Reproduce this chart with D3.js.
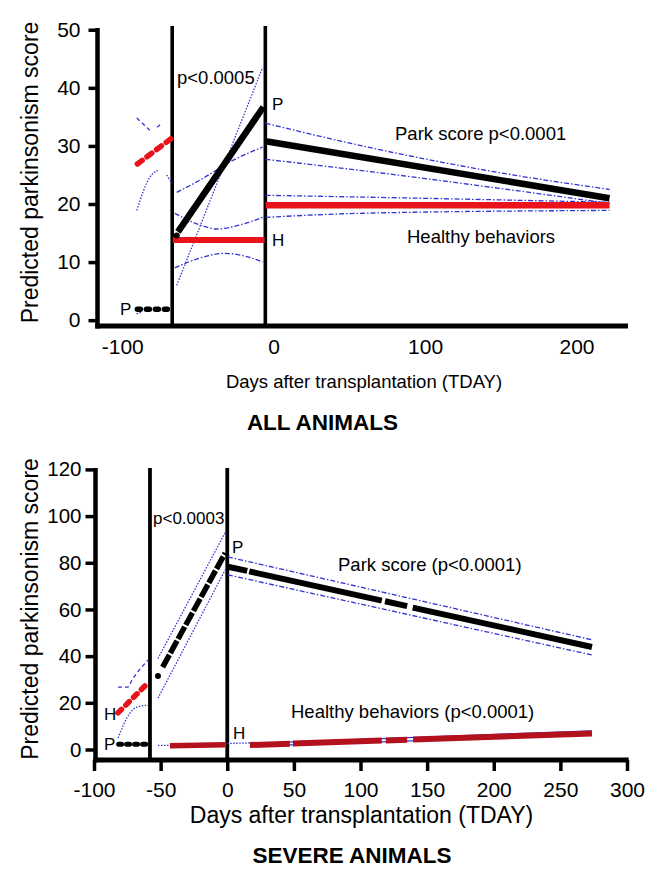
<!DOCTYPE html>
<html><head><meta charset="utf-8">
<script src="https://cdn.jsdelivr.net/npm/d3@7"></script>
<style>
body{margin:0;background:#fff}
svg{display:block}
text{font-family:"Liberation Sans",Arial,Helvetica,sans-serif;fill:#000}
</style>
</head><body><svg id="c" width="663" height="886"></svg>
<script>
// ================= DATA : ALL ANIMALS =================
const allYTicks = [0,10,20,30,40,50];
const allXTicks = [-100,0,100,200];
const allPhaseLines = [-67,-5.5];
const allParkPre = [[-90,1.9],[-67.5,1.9]];
const allParkPreCI = [[-90.5,1.1],[-87,1.4]];
const allHealthyPre = [[-90,26.9],[-68,31.2]];
const allHealthyPreUpper = [[[-90.4,34.8],[-81.8,32.7]],[[-77,33.2],[-74,33.9]]];
const allHealthyPreLower = [[[-90.4,18.9],[-81.8,24.6],[-76.6,25.8]],[[-70.6,25.0],[-67.3,23.6]]];
const allParkMidStart = [-64,14.6];
const allParkMid = [[-63.2,15.2],[-6.8,36.7]];
const allHealthyMid = [[-66.5,13.8],[-6,13.8]];
const allParkMidCurve = [[-64,22.0],[-48.8,24.1],[-27,27.5],[-7.3,29.8]];
const allParkMidStraight = [[-64,6.0],[-7.3,43.5]];
const allHealthyMidUpper = [[-65.3,18.4],[-48.8,16.4],[-37.6,15.7],[-22.4,16.4],[-7.3,17.7]];
const allHealthyMidLower = [[-65.3,9.0],[-48.8,10.7],[-32.3,11.5],[-15.8,10.8],[-7.3,10.0]];
const allParkPost = [[-5.3,30.8],[221.8,21.0]];
const allParkPostUpper = [[-5.3,33.9],[56.8,30.1],[149,25.4],[221.8,22.5]];
const allParkPostLower = [[-5.3,27.7],[56.8,25.8],[149,22.7],[221.8,20.1]];
const allHealthyPost = [[-5.3,19.8],[221.8,19.8]];
const allHealthyPostUpper = [[-5.3,21.5],[56.8,21.2],[221.8,20.3]];
const allHealthyPostLower = [[-5.3,17.7],[56.8,18.4],[221.8,18.9]];

// ================= DATA : SEVERE ANIMALS =================
const sevYTicks = [0,20,40,60,80,100,120];
const sevXTicks = [-100,-50,0,50,100,150,200,250,300];
const sevPhaseLines = [-58,0];
const sevParkPre = [[-81.5,2.3],[-59.5,2.3]];
const sevHealthyPre = [[-82,15.7],[-59.5,28.5]];
const sevHealthyPreUpper = [[-82,26.7],[-74.7,26.7],[-71.5,29.7],[-59.5,38.3]];
const sevHealthyPreLower = [[-82,4.9],[-73,15.6],[-67.9,18.2],[-59.5,19.0]];
const sevParkMidStart = [-52,31.5];
const sevParkMid = [[-48.5,35.3],[-1.5,84.2]];
const sevParkMidUpper = [[-52,39],[-1.5,93]];
const sevParkMidLower = [[-52,22],[-1.5,77]];
const sevHealthyMid = [[-43,1.6],[-1.5,2.0]];
const sevHealthyMidCI = [[[-52,1.8],[-43,1.8]],[[0,2.6],[17,2.8]]];
const sevParkPostSegments = [
  [[0.5,78.3],[15,76.5]],
  [[16.5,76.3],[116,63.8]],
  [[118.4,63.5],[135,61.4]],
  [[139.2,60.8],[273.7,43.9]]
];
const sevParkPostUpper = [[0.5,82.5],[273.7,47.0]];
const sevParkPostLower = [[0.5,74.8],[273.7,40.5]];
const sevHealthyPostSegments = [
  [[17,1.9],[47,2.48]],
  [[49.3,2.53],[116,3.83]],
  [[119,3.89],[135,4.2]],
  [[139.5,4.29],[273.7,6.9]]
];
const sevHealthyPostUpper = [[17,2.6],[273.7,8.0]];
const sevHealthyPostLower = [[17,1.4],[273.7,6.3]];

// ================= DRAWING =================
const svg = d3.select("#c");
const BLUE = "#3434d2", RED = "#e8131b", DRED = "#b3121c";
const FONT = "Liberation Sans, Arial, sans-serif";
const fmt = d => String(d);

function drawPath(g, data, x, y, st, curve) {
  g.append("path")
    .attr("d", d3.line().x(d => x(d[0])).y(d => y(d[1])).curve(curve || d3.curveLinear)(data))
    .attr("fill", "none").attr("stroke", st.c).attr("stroke-width", st.w)
    .attr("stroke-dasharray", st.d || null).attr("stroke-linecap", st.cap || "butt");
}
function label(g, txt, x, y, size, weight, anchor) {
  g.append("text").attr("x", x).attr("y", y).attr("font-size", size)
    .attr("font-weight", weight || "normal").attr("text-anchor", anchor || "start").text(txt);
}
const ciDash = {c: BLUE, w: 1.3, d: "5,2,1.5,2"};
const ciDot = {c: BLUE, w: 1.3, d: "1.5,1.5"};
const ciDash2 = {c: BLUE, w: 1.3, d: "4,3"};

// ---------- Panel 1 ----------
{
  const g = svg.append("g");
  const x = d3.scaleLinear().domain([-116, 234]).range([98, 628]);
  const y = d3.scaleLinear().domain([-1, 50.3]).range([326, 28]);
  const y0 = y.range()[0];

  const ya = g.append("g").attr("transform", "translate(97.5,0)")
    .call(d3.axisLeft(y).tickValues(allYTicks).tickFormat(fmt).tickSize(9).tickPadding(8).tickSizeOuter(0));
  ya.select(".domain").remove();
  ya.selectAll(".tick line").attr("stroke-width", 3.5);
  ya.selectAll("text").attr("font-size", 21).attr("font-family", FONT);
  const xa = g.append("g").attr("transform", `translate(0,${y0})`)
    .call(d3.axisBottom(x).tickValues(allXTicks).tickFormat(fmt).tickSize(0).tickPadding(13).tickSizeOuter(0));
  xa.select(".domain").remove();
  xa.selectAll("text").attr("font-size", 21).attr("font-family", FONT);
  g.append("line").attr("x1", 97.5).attr("x2", 97.5).attr("y1", y.range()[1]).attr("y2", y0 + 2.4)
    .attr("stroke", "#000").attr("stroke-width", 4.5);
  g.append("line").attr("x1", 95.3).attr("x2", x.range()[1]).attr("y1", y0).attr("y2", y0)
    .attr("stroke", "#000").attr("stroke-width", 4.8);

  allPhaseLines.forEach(d => g.append("line").attr("x1", x(d)).attr("x2", x(d))
    .attr("y1", 26).attr("y2", y0).attr("stroke", "#000").attr("stroke-width", 3.6));

  drawPath(g, allParkPreCI, x, y, ciDot);
  allHealthyPreUpper.forEach(s => drawPath(g, s, x, y, ciDash2, d3.curveMonotoneX));
  allHealthyPreLower.forEach(s => drawPath(g, s, x, y, ciDot, d3.curveMonotoneX));
  drawPath(g, allParkMidCurve, x, y, ciDash, d3.curveMonotoneX);
  drawPath(g, allParkMidStraight, x, y, ciDot);
  drawPath(g, allHealthyMidUpper, x, y, ciDash, d3.curveMonotoneX);
  drawPath(g, allHealthyMidLower, x, y, ciDash, d3.curveMonotoneX);
  drawPath(g, allParkPostUpper, x, y, ciDash, d3.curveMonotoneX);
  drawPath(g, allParkPostLower, x, y, ciDash, d3.curveMonotoneX);
  drawPath(g, allHealthyPostUpper, x, y, ciDash, d3.curveMonotoneX);
  drawPath(g, allHealthyPostLower, x, y, ciDash, d3.curveMonotoneX);

  drawPath(g, allParkPre, x, y, {c: "#000", w: 5.5, d: "3,6", cap: "round"});
  drawPath(g, allHealthyPre, x, y, {c: RED, w: 5.5, d: "6,6", cap: "round"});
  drawPath(g, allHealthyMid, x, y, {c: RED, w: 6});
  drawPath(g, allParkMid, x, y, {c: "#000", w: 6.5});
  g.append("circle").attr("cx", x(allParkMidStart[0])).attr("cy", y(allParkMidStart[1])).attr("r", 3).attr("fill", "#000");
  drawPath(g, allHealthyPost, x, y, {c: RED, w: 6.5});
  drawPath(g, allParkPost, x, y, {c: "#000", w: 6.5});

  label(g, "p<0.0005", 177, 84, 18.5);
  label(g, "P", 272, 110, 17);
  label(g, "H", 272, 246, 17);
  label(g, "P", 120, 315, 17);
  label(g, "Park score p<0.0001", 395, 140, 18.5);
  label(g, "Healthy behaviors", 407, 243, 18.5);

  g.append("text").attr("transform", "translate(37.5,172.5) rotate(-90)").attr("text-anchor", "middle")
    .attr("font-size", 23).text("Predicted parkinsonism score");
  label(g, "Days after transplantation (TDAY)", 364, 388, 18.5, "normal", "middle");
  label(g, "ALL ANIMALS", 322.5, 430, 22.5, "bold", "middle");
}

// ---------- Panel 2 ----------
{
  const g = svg.append("g");
  const x = d3.scaleLinear().domain([-100, 300]).range([94, 627]);
  const y = d3.scaleLinear().domain([-4.5, 120.6]).range([760, 468]);
  const y0 = y.range()[0];

  const ya = g.append("g").attr("transform", "translate(95.5,0)")
    .call(d3.axisLeft(y).tickValues(sevYTicks).tickFormat(fmt).tickSize(10).tickPadding(4).tickSizeOuter(0));
  ya.select(".domain").remove();
  ya.selectAll(".tick line").attr("stroke-width", 3.5);
  ya.selectAll("text").attr("font-size", 20.5).attr("font-family", FONT);
  const xa = g.append("g").attr("transform", `translate(0,${y0})`)
    .call(d3.axisBottom(x).tickValues(sevXTicks).tickFormat(fmt).tickSize(11).tickPadding(11).tickSizeOuter(0));
  xa.select(".domain").remove();
  xa.selectAll(".tick line").attr("stroke-width", 3.5);
  xa.selectAll("text").attr("font-size", 21).attr("font-family", FONT);
  g.append("line").attr("x1", 95.5).attr("x2", 95.5).attr("y1", y.range()[1]).attr("y2", y0 + 2.4)
    .attr("stroke", "#000").attr("stroke-width", 4.5);
  g.append("line").attr("x1", 93.3).attr("x2", x.range()[1] + 1.7).attr("y1", y0).attr("y2", y0)
    .attr("stroke", "#000").attr("stroke-width", 4.8);

  sevPhaseLines.forEach(d => g.append("line").attr("x1", x(d)).attr("x2", x(d))
    .attr("y1", 468).attr("y2", y0).attr("stroke", "#000").attr("stroke-width", 3.8));

  drawPath(g, sevHealthyPreUpper, x, y, ciDash2, d3.curveMonotoneX);
  drawPath(g, sevHealthyPreLower, x, y, ciDot, d3.curveMonotoneX);
  drawPath(g, sevParkMidUpper, x, y, ciDot);
  drawPath(g, sevParkMidLower, x, y, ciDot);
  sevHealthyMidCI.forEach(s => drawPath(g, s, x, y, ciDot));
  drawPath(g, sevParkPostUpper, x, y, ciDash);
  drawPath(g, sevParkPostLower, x, y, ciDash);
  drawPath(g, sevHealthyPostUpper, x, y, {c: BLUE, w: 1.2});
  drawPath(g, sevHealthyPostLower, x, y, {c: BLUE, w: 1.2});

  drawPath(g, sevParkPre, x, y, {c: "#000", w: 5, d: "3,5", cap: "round"});
  drawPath(g, sevHealthyPre, x, y, {c: RED, w: 5.5, d: "5,6", cap: "round"});
  drawPath(g, sevParkMid, x, y, {c: "#000", w: 5.5, d: "14,2"});
  g.append("circle").attr("cx", x(sevParkMidStart[0])).attr("cy", y(sevParkMidStart[1])).attr("r", 3).attr("fill", "#000");
  drawPath(g, sevHealthyMid, x, y, {c: DRED, w: 5.5});
  sevHealthyPostSegments.forEach(s => drawPath(g, s, x, y, {c: DRED, w: 6}));
  sevParkPostSegments.forEach(s => drawPath(g, s, x, y, {c: "#000", w: 6}));

  label(g, "p<0.0003", 153, 524, 17);
  label(g, "P", 232, 553, 17);
  label(g, "H", 233, 739, 17);
  label(g, "H", 104, 720, 17);
  label(g, "P", 104, 750, 17);
  label(g, "Park score (p<0.0001)", 338, 571, 18.5);
  label(g, "Healthy behaviors (p<0.0001)", 291, 718, 18.5);

  g.append("text").attr("transform", "translate(37.5,609) rotate(-90)").attr("text-anchor", "middle")
    .attr("font-size", 23).text("Predicted parkinsonism score");
  label(g, "Days after transplantation (TDAY)", 361.5, 823, 23, "normal", "middle");
  label(g, "SEVERE ANIMALS", 352, 863, 22.5, "bold", "middle");
}
</script>
</body></html>
